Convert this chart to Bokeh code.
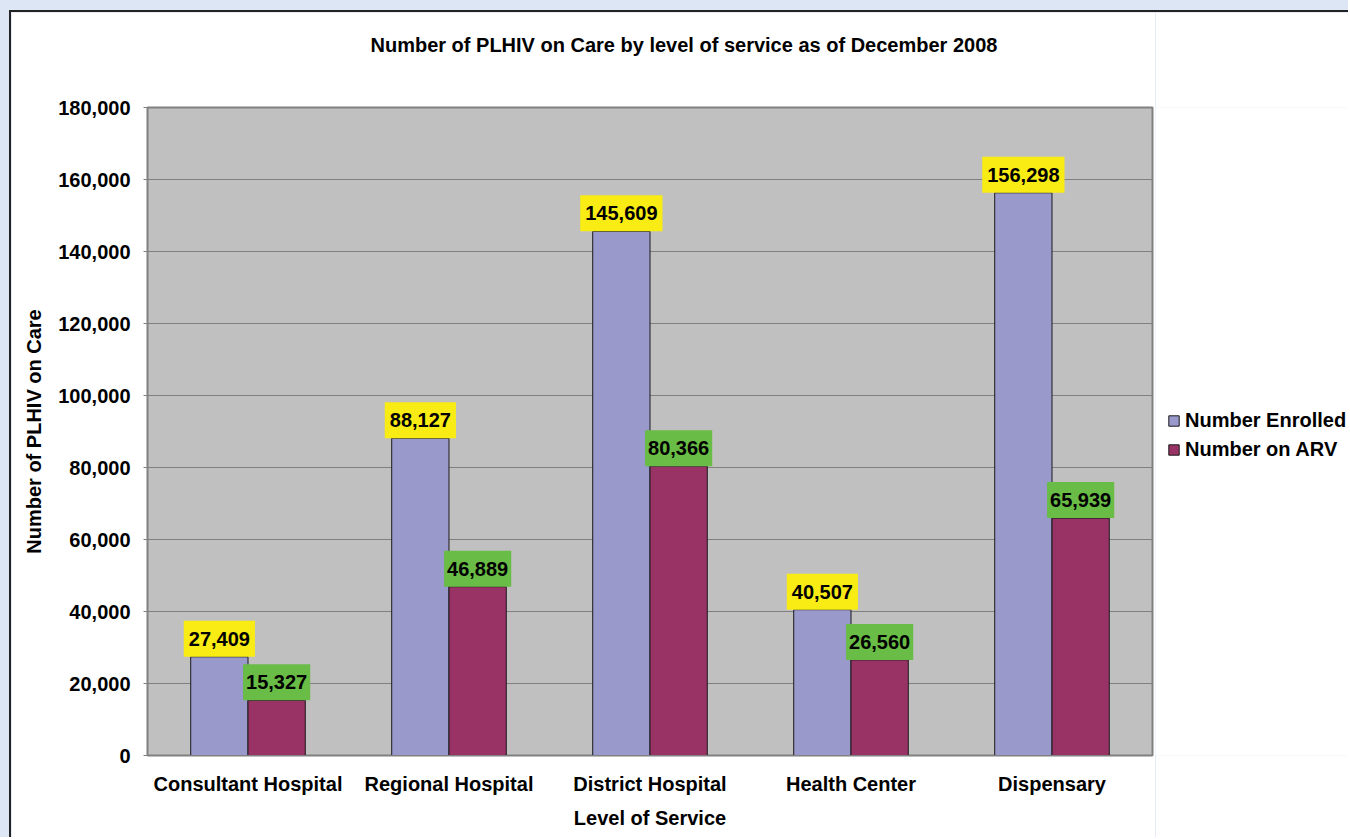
from bokeh.plotting import figure
from bokeh.models import (ColumnDataSource, FactorRange, Range1d, Legend, LegendItem,
                          NumeralTickFormatter, FixedTicker, Title)
from bokeh.core.properties import value
from bokeh.transform import dodge
from bokeh.layouts import row
from bokeh.embed import file_html
from bokeh.resources import INLINE

categories = ["Consultant Hospital", "Regional Hospital", "District Hospital", "Health Center", "Dispensary"]
enrolled = [27409, 88127, 145609, 40507, 156298]
on_arv = [15327, 46889, 80366, 26560, 65939]
series_names = ["Number Enrolled", "Number on ARV"]
series_colors = ["#9999CC", "#993366"]
y_ticks = [0, 20000, 40000, 60000, 80000, 100000, 120000, 140000, 160000, 180000]

FONT = "Liberation Sans"
BAR_W = 0.285

src = ColumnDataSource(dict(
    cat=categories,
    enrolled=enrolled,
    on_arv=on_arv,
    enrolled_txt=[f"{v:,}" for v in enrolled],
    arv_txt=[f"{v:,}" for v in on_arv],
))

p = figure(x_range=FactorRange(*categories), y_range=Range1d(0, 180000),
           width=1146, height=827,
           min_border_left=136, min_border_top=92, min_border_right=5, min_border_bottom=84,
           output_backend="svg", toolbar_location=None,
           background_fill_color="#C0C0C0", border_fill_color="white",
           outline_line_color="#808080", outline_line_width=2,
           styles={"border-left": "2px solid #222222", "border-top": "2px solid #222222"})

p.title.text = "Number of PLHIV on Care by level of service as of December 2008"
p.title.text_font = FONT
p.title.text_font_size = "20px"
p.title.text_font_style = "bold"
p.title.text_color = "black"
p.title.align = "left"
p.title.offset = 223
p.title.standoff = 38
p.add_layout(Title(text=" ", text_font_size="1px", standoff=30), "above")

p.vbar(x=dodge("cat", -BAR_W / 2, range=p.x_range), top="enrolled", width=BAR_W, source=src,
       fill_color=series_colors[0], line_color="#1a1a1a", line_width=1)
p.vbar(x=dodge("cat", BAR_W / 2, range=p.x_range), top="on_arv", width=BAR_W, source=src,
       fill_color=series_colors[1], line_color="#1a1a1a", line_width=1)

for xoff, field, txt, bg, padx in [(-BAR_W / 2, "enrolled", "enrolled_txt", "#F8EC14", 5),
                                   (BAR_W / 2, "on_arv", "arv_txt", "#69BC45", 3)]:
    p.text(x=dodge("cat", xoff, range=p.x_range), y=field, text=txt, source=src,
           anchor="bottom_center", y_offset=0,
           text_font=value(FONT), text_font_size="20px", text_font_style="bold", text_color="black",
           background_fill_color=bg, padding=dict(left=padx, right=padx, top=11, bottom=11))

p.yaxis.ticker = FixedTicker(ticks=y_ticks)
p.yaxis.formatter = NumeralTickFormatter(format="0,0")
p.yaxis.axis_label = "Number of PLHIV on Care"
p.xaxis.axis_label = "Level of Service"
for ax in (p.xaxis, p.yaxis):
    ax.axis_line_color = "#808080"
    ax.major_tick_line_color = "#808080"
    ax.minor_tick_line_color = None
    ax.major_label_text_font = FONT
    ax.major_label_text_font_size = "20px"
    ax.major_label_text_font_style = "bold"
    ax.major_label_text_color = "black"
    ax.axis_label_text_font = FONT
    ax.axis_label_text_font_size = "20px"
    ax.axis_label_text_font_style = "bold"
    ax.axis_label_text_color = "black"
p.yaxis.major_tick_out = 4
p.yaxis.major_tick_in = 0
p.yaxis.major_label_standoff = 13
p.yaxis.axis_label_standoff = 10
p.xaxis.major_tick_out = 0
p.xaxis.major_tick_in = 0
p.xaxis.major_label_standoff = 17
p.xaxis.axis_label_standoff = 9

p.xgrid.grid_line_color = None
p.ygrid.grid_line_color = "#808080"
p.ygrid.grid_line_width = 1

# legend panel (separate small figure to the right of the chart)
lf = figure(width=193, height=827, min_border=0, x_range=Range1d(0, 1), y_range=Range1d(0, 1),
            output_backend="svg", toolbar_location=None,
            background_fill_color="white", border_fill_color="white", outline_line_color=None,
            styles={"border-top": "2px solid #222222"})
lf.axis.visible = False
lf.grid.grid_line_color = None
# zero-height swatch carriers (only their styles show, in the legend)
lr1 = lf.vbar(x=[0.5], top=[0], bottom=[0], width=0, fill_color=series_colors[0], line_color="#1a1a1a")
lr2 = lf.vbar(x=[0.5], top=[0], bottom=[0], width=0, fill_color=series_colors[1], line_color="#1a1a1a")
legend = Legend(items=[LegendItem(label=series_names[0], renderers=[lr1]),
                       LegendItem(label=series_names[1], renderers=[lr2])],
                location=(12, 294), margin=0, padding=3, spacing=6,
                glyph_width=13, glyph_height=13, label_standoff=5,
                label_text_font=FONT, label_text_font_size="20px", label_text_font_style="bold",
                label_text_color="black",
                border_line_color=None, background_fill_color="white")
lf.add_layout(legend)

layout = row(p, lf, styles={"background-color": "#DDE6F4", "padding-left": "9px", "padding-top": "10px",
                            "overflow": "hidden"})

open("out.html", "w").write(file_html(layout, INLINE))
